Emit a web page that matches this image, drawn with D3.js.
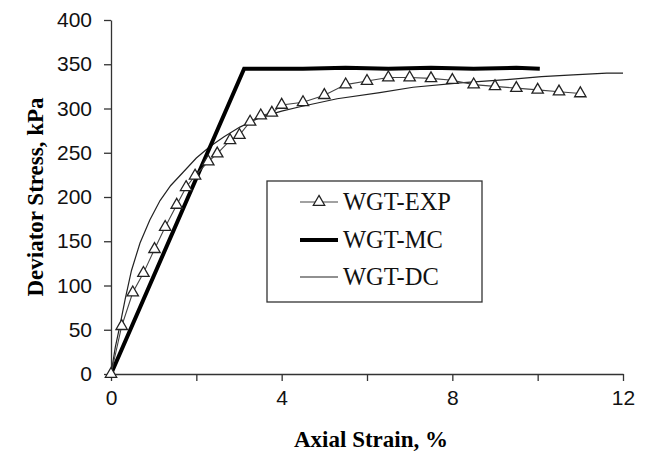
<!DOCTYPE html>
<html>
<head>
<meta charset="utf-8">
<script src="https://cdn.jsdelivr.net/npm/d3@7"></script>
<style>
html,body{margin:0;padding:0;background:#fff;}
svg{display:block;}
</style>
</head>
<body>
<svg id="chart" width="646" height="463"></svg>
<script>
// ---- data ----
const seriesNames = ["WGT-EXP", "WGT-MC", "WGT-DC"];
const expStrain = [0, 0.25, 0.51, 0.76, 1.02, 1.27, 1.54, 1.76, 1.97, 2.28, 2.49, 2.79, 3.01, 3.26, 3.51, 3.77, 4.0, 4.5, 5.0, 5.5, 6.0, 6.5, 7.0, 7.5, 8.0, 8.5, 9.0, 9.5, 10.0, 10.5, 11.0];
const expStress = [0, 54, 92, 114, 141, 166, 191, 211, 224, 240, 249, 264, 270, 285, 292, 295, 304, 307, 315, 327, 331, 335, 335, 334, 332, 327, 325, 323, 321, 319, 317];
const mcStrain = [0, 3.12, 4.5, 5.5, 6.5, 7.5, 8.5, 9.5, 10.05];
const mcStress = [0, 345, 345, 346, 345, 346, 345, 346, 345];
const dcStrain = [0, 0.1, 0.21, 0.33, 0.48, 0.68, 0.91, 1.15, 1.4, 1.69, 2.0, 2.32, 2.65, 3.02, 3.5, 4.0, 4.43, 5.3, 6.3, 7.08, 8.18, 9.35, 10.09, 10.83, 11.62, 12.0];
const dcStress = [0, 30, 55, 84, 117, 148, 174, 196, 213, 228, 244, 257, 268, 279, 290, 297, 302, 311, 318, 324, 329, 333, 336, 338, 340, 340];
const xTicks = [0, 2, 4, 6, 8, 10, 12];
const xTickLabels = ["0", "", "4", "", "8", "", "12"];
const yTicks = [0, 50, 100, 150, 200, 250, 300, 350, 400];
const xTitle = "Axial Strain, %";
const yTitle = "Deviator Stress, kPa";

// ---- chart ----
const svg = d3.select("#chart");
const x = d3.scaleLinear().domain([0, 12]).range([111, 623]);
const y = d3.scaleLinear().domain([0, 400]).range([374, 20]);

const tickFont = "'Liberation Sans', Arial, sans-serif";
const serif = "'Liberation Serif', 'Times New Roman', serif";

const xAxis = d3.axisBottom(x).tickValues(xTicks)
  .tickFormat((d, i) => xTickLabels[i]).tickSize(7).tickPadding(9).tickSizeOuter(0);
const gx = svg.append("g").attr("transform", `translate(0,${y(0)})`).call(xAxis);
gx.select(".domain").attr("stroke", "#333").attr("stroke-width", 1.3);
gx.selectAll(".tick line").attr("stroke", "#333").attr("stroke-width", 1.3);
gx.selectAll(".tick text").attr("font-family", tickFont).attr("font-size", 21).attr("fill", "#111");

const yAxis = d3.axisLeft(y).tickValues(yTicks).tickSize(7).tickPadding(12).tickSizeOuter(0);
const gy = svg.append("g").attr("transform", `translate(${x(0)},0)`).call(yAxis);
gy.select(".domain").attr("stroke", "#333").attr("stroke-width", 1.3);
gy.selectAll(".tick line").attr("stroke", "#333").attr("stroke-width", 1.3);
gy.selectAll(".tick text").attr("font-family", tickFont).attr("font-size", 21).attr("fill", "#111");

// axis titles
svg.append("text").attr("x", 371).attr("y", 447).attr("text-anchor", "middle")
  .attr("font-family", serif).attr("font-weight", "bold").attr("font-size", 23).text(xTitle);
svg.append("text").attr("transform", `translate(43,${(y(0)+y(400))/2}) rotate(-90)`)
  .attr("text-anchor", "middle").attr("font-family", serif).attr("font-weight", "bold")
  .attr("font-size", 23).text(yTitle);

const line = d3.line().x(d => x(d[0])).y(d => y(d[1]));
const dcData = dcStrain.map((v, i) => [v, dcStress[i]]);
const mcData = mcStrain.map((v, i) => [v, mcStress[i]]);
const expData = expStrain.map((v, i) => [v, expStress[i]]);

svg.append("path").datum(dcData).attr("d", line).attr("fill", "none")
  .attr("stroke", "#222").attr("stroke-width", 1.2);
svg.append("path").datum(mcData).attr("d", line).attr("fill", "none")
  .attr("stroke", "#000").attr("stroke-width", 4).attr("stroke-linejoin", "miter");
svg.append("path").datum(expData).attr("d", line).attr("fill", "none")
  .attr("stroke", "#444").attr("stroke-width", 1.1);

const tri = d3.symbol().type(d3.symbolTriangle).size(56);
svg.append("g").selectAll("path").data(expData).join("path")
  .attr("d", tri).attr("transform", d => `translate(${x(d[0])},${y(d[1])})`)
  .attr("fill", "#fff").attr("stroke", "#222").attr("stroke-width", 1.3);

// legend
const lg = svg.append("g");
lg.append("rect").attr("x", 267).attr("y", 181).attr("width", 215).attr("height", 121)
  .attr("fill", "#fff").attr("stroke", "#333").attr("stroke-width", 1.3);
const rows = [202, 240, 277];
const lx0 = 300, lx1 = 338;
lg.append("line").attr("x1", lx0).attr("x2", lx1).attr("y1", rows[0]).attr("y2", rows[0]).attr("stroke", "#444").attr("stroke-width", 1.1);
lg.append("path").attr("d", tri).attr("transform", `translate(${(lx0+lx1)/2},${rows[0]})`).attr("fill", "#fff").attr("stroke", "#222").attr("stroke-width", 1.3);
lg.append("line").attr("x1", lx0).attr("x2", lx1).attr("y1", rows[1]).attr("y2", rows[1]).attr("stroke", "#000").attr("stroke-width", 4);
lg.append("line").attr("x1", lx0).attr("x2", lx1).attr("y1", rows[2]).attr("y2", rows[2]).attr("stroke", "#222").attr("stroke-width", 1.2);
seriesNames.forEach((n, i) => {
  lg.append("text").attr("x", 343).attr("y", rows[i] + 8).attr("font-family", serif)
    .attr("font-size", 24.5).attr("fill", "#111").text(n);
});
</script>
</body>
</html>
